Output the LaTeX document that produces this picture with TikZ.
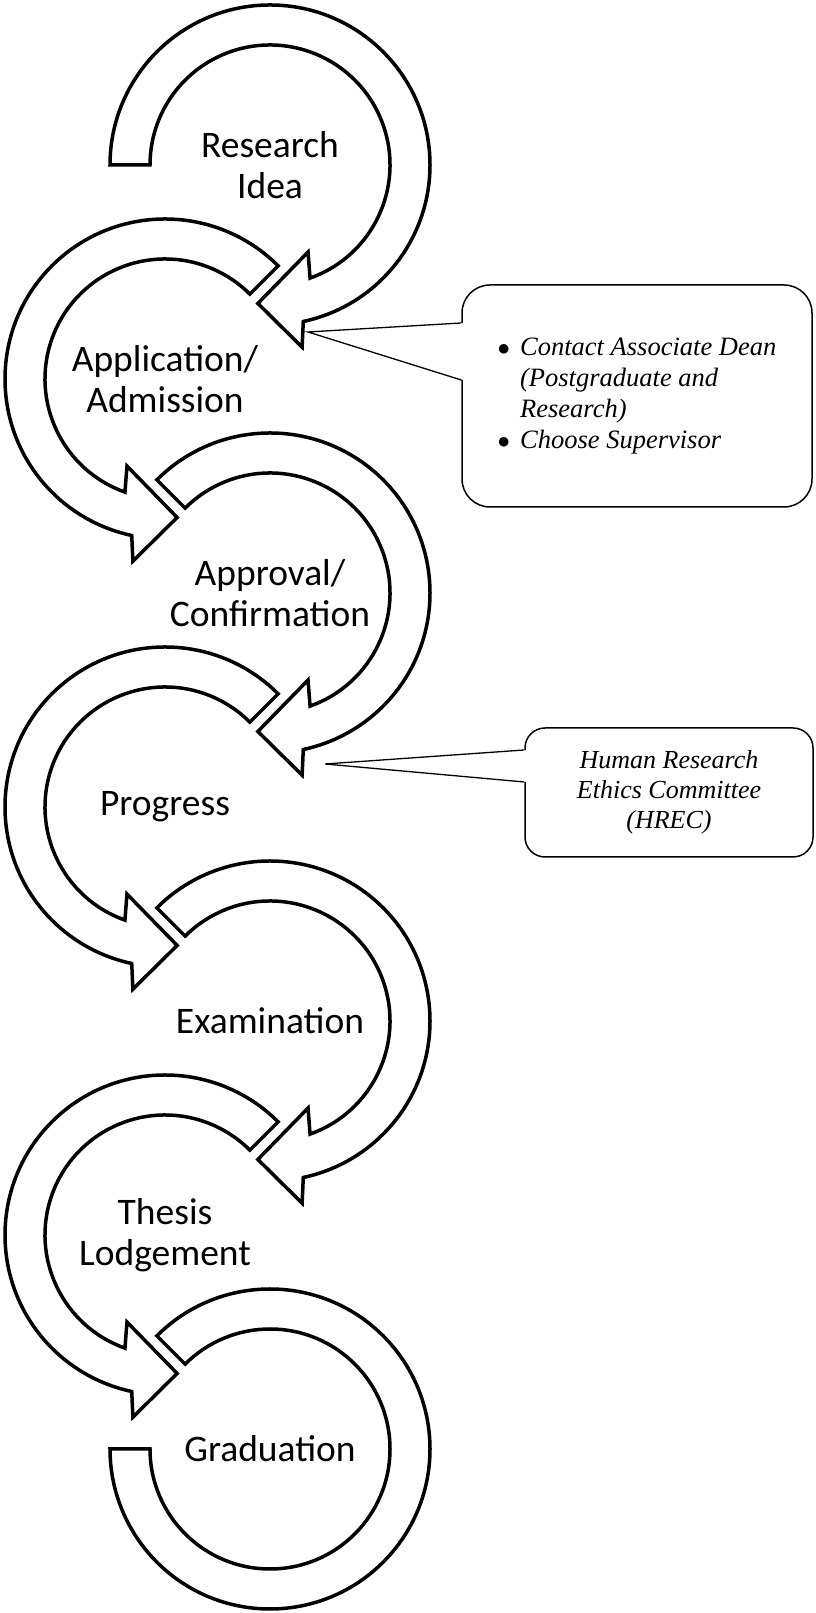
\documentclass[tikz,border=0pt]{standalone}
\usepackage{fontspec}
\setmainfont{Carlito}
\newfontfamily\timesfont{Liberation Serif}
\begin{document}
\begin{tikzpicture}[x=1pt,y=1pt,
  bogen/.style={draw, fill=white, line width=3.5pt, line join=miter},
  schritt/.style={align=center, font=\fontsize{37.5}{40.5}\selectfont},
  hinweis/.style={draw, fill=white, line width=1.5pt},
  zeiger/.style={line width=1.3pt}]
\useasboundingbox (0,0) rectangle (815,1613);
% Boegen rechts
\begin{scope}[shift={(270,1448)}]
\draw[bogen] (180:160) arc[start angle=180, end angle=-78, radius=160] -- (-80:185) -- (-95:139) -- (-66.4:95) -- (-70.5:120) arc[start angle=-70.5, end angle=180, radius=120] -- cycle;
\end{scope}
\foreach \y in {1020,592}{
\begin{scope}[shift={(270,\y)}]
\draw[bogen] (135:160) arc[start angle=135, end angle=-78, radius=160] -- (-80:185) -- (-95:139) -- (-66.4:95) -- (-70.5:120) arc[start angle=-70.5, end angle=135, radius=120] -- cycle;
\end{scope}}
\begin{scope}[shift={(270,164)}]
\draw[bogen] (135:160) arc[start angle=135, end angle=-180, radius=160] -- (180:120) arc[start angle=-180, end angle=135, radius=120] -- cycle;
\end{scope}
% Boegen links
\foreach \y in {1234,806,378}{
\begin{scope}[shift={(165,\y)}]
\draw[bogen] (45:160) arc[start angle=45, end angle=258, radius=160] -- (260:185) -- (275:139) -- (246.4:95) -- (250.5:120) arc[start angle=250.5, end angle=45, radius=120] -- cycle;
\end{scope}}
% Beschriftungen
\node[schritt] (idee) at (270,1448) {Research\\Idea};
\node[schritt] (antrag) at (165,1234) {Application/\\Admission};
\node[schritt] (bestaet) at (270,1020) {Approval/\\Confirmation};
\node[schritt] (fortschritt) at (165,806) {Progress};
\node[schritt] (pruefung) at (270,592) {Examination};
\node[schritt] (abgabe) at (165,378) {Thesis\\Lodgement};
\node[schritt] (abschluss) at (270,164) {Graduation};
% Sprechblasen
\node[hinweis, rounded corners=28pt, minimum width=350pt, minimum height=222pt, align=left, font=\timesfont\itshape\fontsize{26.5}{31}\selectfont] (kasten1) at (637,1217) {$\bullet$\hspace{10pt}Contact Associate Dean\\
\phantom{$\bullet$}\hspace{10pt}(Postgraduate and\\
\phantom{$\bullet$}\hspace{10pt}Research)\\
$\bullet$\hspace{10pt}Choose Supervisor};
\node[hinweis, rounded corners=20pt, minimum width=288pt, minimum height=129pt, align=center, font=\timesfont\itshape\fontsize{26}{30}\selectfont] (kasten2) at (669,820.5) {Human Research\\Ethics Committee\\(HREC)};
\coordinate (spitze1) at (308,1281);
\coordinate (spitze2) at (325,849);
\fill[white] ([xshift=2pt,yshift=73pt]kasten1.west) -- (spitze1) -- ([xshift=2pt,yshift=16pt]kasten1.west) -- cycle;
\draw[zeiger] ([yshift=73pt]kasten1.west) -- (spitze1) -- ([yshift=16pt]kasten1.west);
\fill[white] ([xshift=2pt,yshift=42.5pt]kasten2.west) -- (spitze2) -- ([xshift=2pt,yshift=10.5pt]kasten2.west) -- cycle;
\draw[zeiger] ([yshift=42.5pt]kasten2.west) -- (spitze2) -- ([yshift=10.5pt]kasten2.west);
\end{tikzpicture}
\end{document}
